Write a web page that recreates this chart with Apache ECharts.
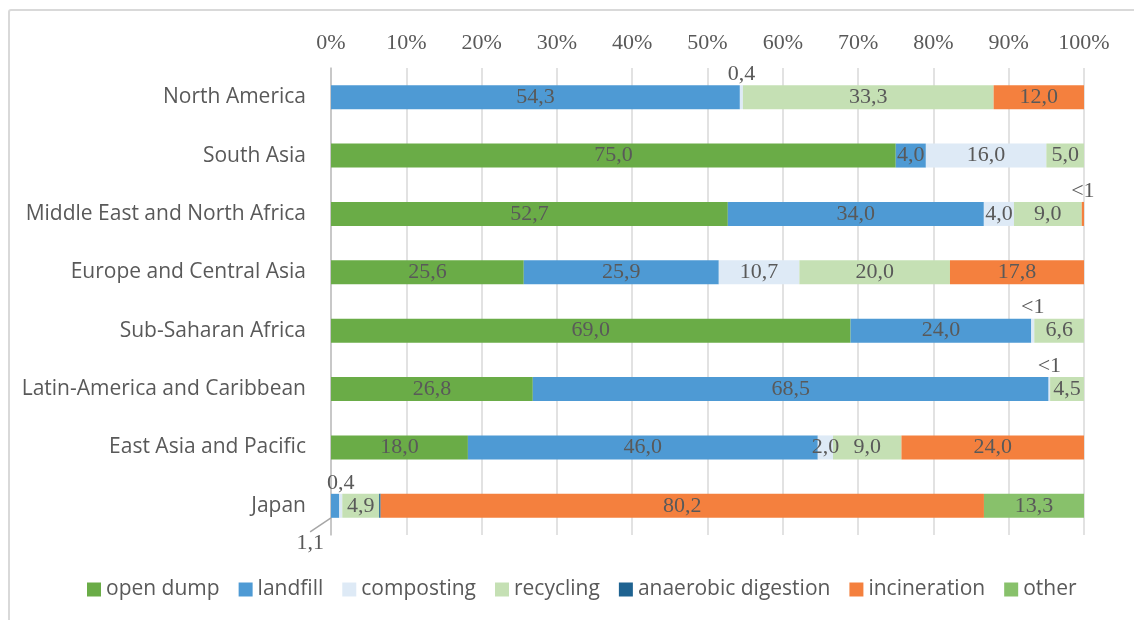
<!DOCTYPE html>
<html>
<head>
<meta charset="utf-8">
<script src="https://cdn.jsdelivr.net/npm/echarts@6/dist/echarts.min.js"></script>
<style>
  * { margin: 0; padding: 0; }
  body { width: 1134px; height: 620px; overflow: hidden; background: #fff; }
  #frame { position: absolute; left: 8px; top: 9px; width: 1200px; height: 700px; border: 2px solid #d9d9d9; border-radius: 3px; }
  #chart { position: absolute; left: 0; top: 0; width: 1134px; height: 620px; }
</style>
</head>
<body>
<div id="frame"></div>
<div id="chart"></div>
<script>
// regions, top to bottom
const regions = ["North America", "South Asia", "Middle East and North Africa", "Europe and Central Asia",
  "Sub-Saharan Africa", "Latin-America and Caribbean", "East Asia and Pacific", "Japan"];

// shares in %
const openDump     = [0, 75.0, 52.7, 25.6, 69.0, 26.8, 18.0, 0];
const landfill     = [54.3, 4.0, 34.0, 25.9, 24.0, 68.5, 46.0, 1.1];
const composting   = [0.4, 16.0, 4.0, 10.7, 0.4, 0.2, 2.0, 0.4];
const recycling    = [33.3, 5.0, 9.0, 20.0, 6.6, 4.5, 9.0, 4.9];
const anaerobic    = [0, 0, 0, 0, 0, 0, 0, 0.2];
const incineration = [12.0, 0, 0.3, 17.8, 0, 0, 24.0, 80.2];
const other        = [0, 0, 0, 0, 0, 0, 0, 13.3];

const xTicks = [0, 10, 20, 30, 40, 50, 60, 70, 80, 90, 100];

// values that the chart only shows as "<1"
const belowOne = [["Middle East and North Africa", "incineration"], ["Sub-Saharan Africa", "composting"],
  ["Latin-America and Caribbean", "composting"]];

const seriesDefs = [
  { name: "open dump", data: openDump, color: "#6aac47" },
  { name: "landfill", data: landfill, color: "#4e9ad4" },
  { name: "composting", data: composting, color: "#deeaf6" },
  { name: "recycling", data: recycling, color: "#c5e0b4" },
  { name: "anaerobic digestion", data: anaerobic, color: "#1f6391" },
  { name: "incineration", data: incineration, color: "#f4803e" },
  { name: "other", data: other, color: "#88c16b" }
];

// row totals for the 100% stack
let totals = regions.map((r, i) => seriesDefs.reduce((s, d) => s + d.data[i], 0));

const labelFont = { fontFamily: "Liberation Serif", fontSize: 22, color: "#595959" };
const fmt = p => p.data.raw.toFixed(1).replace(".", ",");

let series = seriesDefs.map(def => ({
  name: def.name,
  type: "bar",
  stack: "all",
  barWidth: 24,
  itemStyle: { color: def.color },
  label: { show: true, position: "inside", formatter: fmt, ...labelFont },
  // the tiny Japan landfill label is pulled out below-left with a leader line
  labelLayout: p => (def.name === "landfill" && regions[p.dataIndex] === "Japan") ? { dx: -25, dy: 37 } : {},
  labelLine: { show: true, lineStyle: { color: "#a6a6a6", width: 1.5 } },
  data: def.data.map((v, i) => {
    let item = { value: v / totals[i] * 100, raw: v };
    let isBelow = belowOne.some(b => b[0] === regions[i] && b[1] === def.name);
    if (v === 0 || def.name === "anaerobic digestion") {
      item.label = { show: false };
    } else if (isBelow) {
      item.label = { position: "top", distance: 0, formatter: "<1",
        offset: [def.name === "incineration" ? -10 : 0, 0] };
    } else if (v < 1) {
      item.label = { position: "top", distance: 0, formatter: fmt };
    }
    return item;
  })
}));

let chart = echarts.init(document.getElementById("chart"));
chart.setOption({
  animation: false,
  grid: { left: 331, right: 50, top: 68, bottom: 85 },
  legend: {
    top: 574,
    left: 82,
    icon: "rect",
    itemWidth: 14,
    itemHeight: 14,
    itemGap: 19,
    textStyle: { fontFamily: "Open Sans", fontSize: 21, color: "#595959" },
    data: seriesDefs.map(d => d.name)
  },
  xAxis: {
    type: "value",
    position: "top",
    min: 0,
    max: 100,
    interval: 10,
    axisLine: { show: false },
    axisTick: { show: false },
    splitLine: { lineStyle: { color: "#d9d9d9", width: 1.5 } },
    axisLabel: { margin: 14, ...labelFont, formatter: v => xTicks.includes(v) ? v + "%" : "" }
  },
  yAxis: {
    type: "category",
    inverse: true,
    data: regions,
    axisLine: { show: true, lineStyle: { color: "#bfbfbf", width: 1.5 } },
    axisTick: { show: false },
    axisLabel: { margin: 25, fontFamily: "Open Sans", fontSize: 21, color: "#595959" }
  },
  series: series
});
</script>
</body>
</html>
